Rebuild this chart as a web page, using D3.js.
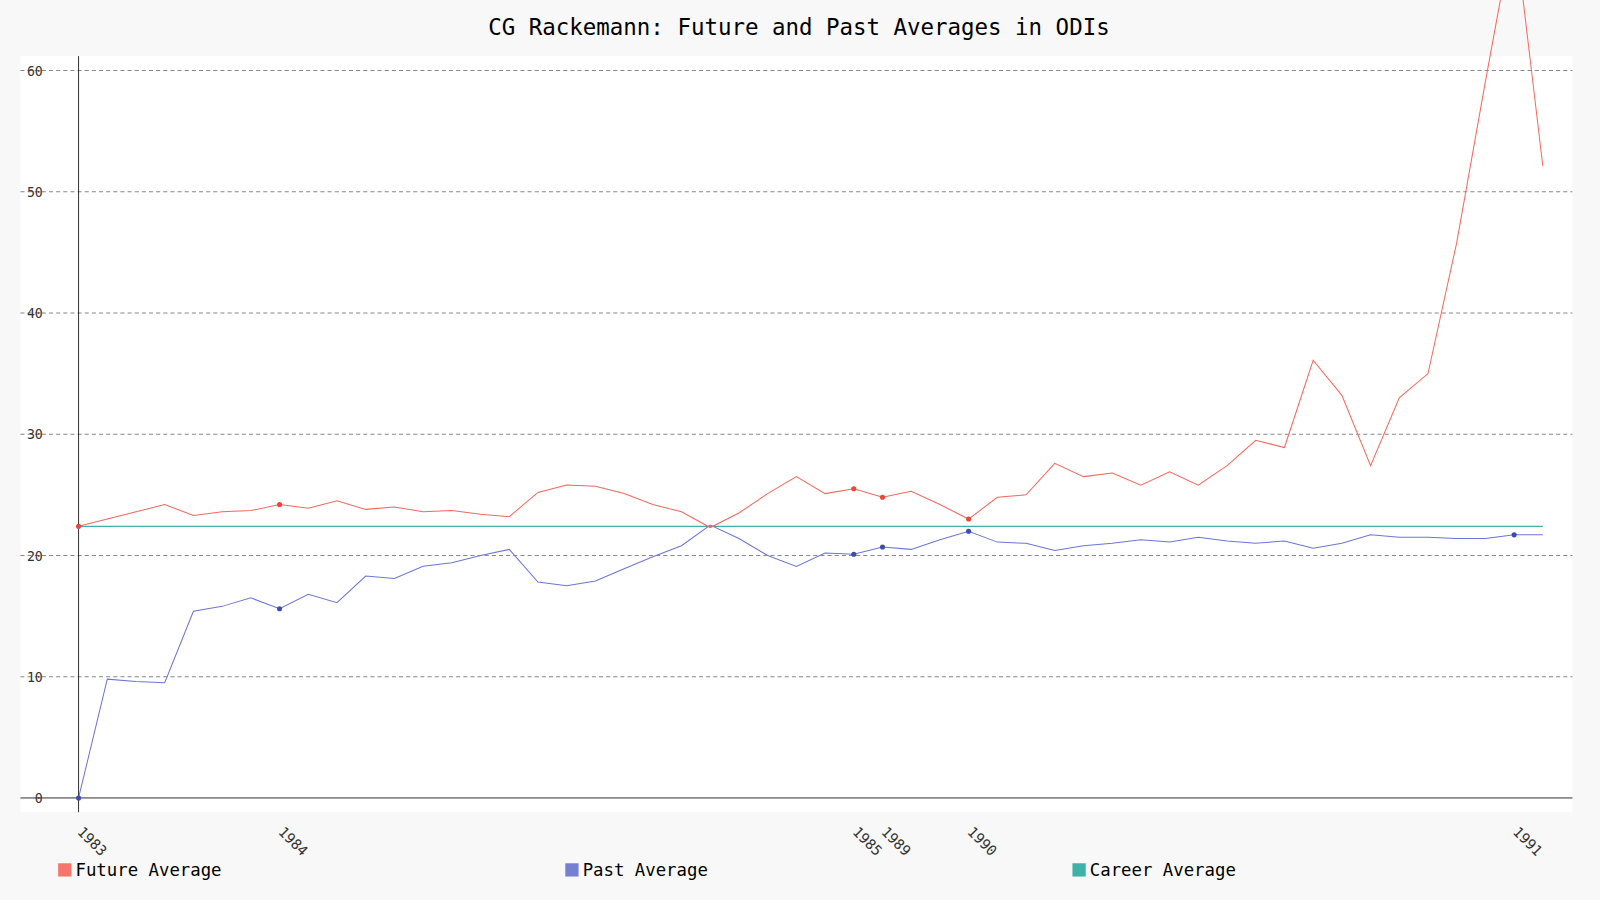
<!DOCTYPE html>
<html><head><meta charset="utf-8">
<script src="https://cdn.jsdelivr.net/npm/d3@7"></script>
<style>body{margin:0;background:#f8f8f8;font-family:"DejaVu Sans Mono",monospace;}</style>
</head><body>
<script>
var future = [22.4,23.0,23.6,24.2,23.3,23.6,23.7,24.2,23.9,24.5,23.8,24.0,23.6,23.7,23.4,23.2,25.2,25.8,25.7,25.1,24.2,23.6,22.3,23.5,25.1,26.5,25.1,25.5,24.8,25.3,24.2,23.0,24.8,25.0,27.6,26.5,26.8,25.8,26.9,25.8,27.4,29.5,28.9,36.1,33.2,27.4,33.0,35.0,45.8,59.1,72.0,52.1];
var past = [0,9.8,9.6,9.5,15.4,15.8,16.5,15.6,16.8,16.1,18.3,18.1,19.1,19.4,20.0,20.5,17.8,17.5,17.9,18.9,19.9,20.8,22.5,21.4,20.0,19.1,20.2,20.1,20.7,20.5,21.3,22.0,21.1,21.0,20.4,20.8,21.0,21.3,21.1,21.5,21.2,21.0,21.2,20.6,21.0,21.7,21.5,21.5,21.4,21.4,21.7,21.7];
var careerAvg = 22.4;
var xLabels = {0:"1983",7:"1984",27:"1985",28:"1989",31:"1990",50:"1991"};
var yTicks = [0,10,20,30,40,50,60];

var W = 1600, H = 900;
var root = d3.select('body').append('svg').attr('width', W).attr('height', H);
root.append('rect').attr('width', W).attr('height', H).attr('fill', '#f8f8f8');
var svg = root.append('g').attr('transform', 'scale(' + (1600 / 1568) + ')');
svg.append('rect').attr('x', 20).attr('y', 55).attr('width', 1521).attr('height', 741).attr('fill', '#fff');

var x = d3.scaleLinear().domain([0, future.length - 1]).range([77, 1512]);
var y = d3.scaleLinear().domain([0, 60]).range([782, 69]);

svg.append('text').attr('x', 783).attr('y', 34).attr('text-anchor', 'middle')
  .attr('font-size', 22).attr('fill', '#000').text('CG Rackemann: Future and Past Averages in ODIs');

svg.append('clipPath').attr('id', 'c').append('rect')
  .attr('x', 20).attr('y', 0).attr('width', 1521).attr('height', 796);

yTicks.forEach(function(t){
  svg.append('line').attr('x1', 20).attr('x2', 1541).attr('y1', y(t)).attr('y2', y(t))
    .attr('stroke', t === 0 ? '#000' : '#888').attr('stroke-width', t === 0 ? 0.8 : 1)
    .attr('stroke-dasharray', t === 0 ? null : '4,3');
  svg.append('text').attr('x', 42).attr('y', y(t) + 5).attr('text-anchor', 'end')
    .attr('font-size', 13).attr('fill', '#333').text(t);
});
svg.append('line').attr('x1', 77).attr('x2', 77).attr('y1', 55).attr('y2', 796)
  .attr('stroke', '#000').attr('stroke-width', 0.8);

Object.keys(xLabels).forEach(function(k){
  var px = x(+k);
  svg.append('text').attr('transform', 'translate(' + (px - 2) + ',816) rotate(45)')
    .attr('font-size', 14).attr('fill', '#333').text(xLabels[k]);
});

var line = d3.line().x(function(d, i){ return x(i); }).y(function(d){ return y(d); });
var g = svg.append('g').attr('clip-path', 'url(#c)');
g.append('path').datum(past.map(function(){ return careerAvg; })).attr('d', line)
  .attr('fill', 'none').attr('stroke', '#3fb1a8').attr('stroke-width', 1.2);
g.append('path').datum(past).attr('d', line).attr('fill', 'none').attr('stroke', '#6b76d6').attr('stroke-width', 1);
g.append('path').datum(future).attr('d', line).attr('fill', 'none').attr('stroke', '#f6685e').attr('stroke-width', 1);

Object.keys(xLabels).forEach(function(k){
  g.append('circle').attr('cx', x(+k)).attr('cy', y(future[+k])).attr('r', 2.5).attr('fill', '#f0443a');
  g.append('circle').attr('cx', x(+k)).attr('cy', y(past[+k])).attr('r', 2.5).attr('fill', '#3b4ab5');
});

var legend = [['Future Average', '#f6766b'], ['Past Average', '#7680d1'], ['Career Average', '#3fb1a8']];
legend.forEach(function(l, i){
  var lx = 57 + i * 497;
  svg.append('rect').attr('x', lx).attr('y', 846).attr('width', 13).attr('height', 13).attr('fill', l[1]);
  svg.append('text').attr('x', lx + 17).attr('y', 858).attr('font-size', 17).attr('fill', '#000').text(l[0]);
});
</script>
</body></html>
